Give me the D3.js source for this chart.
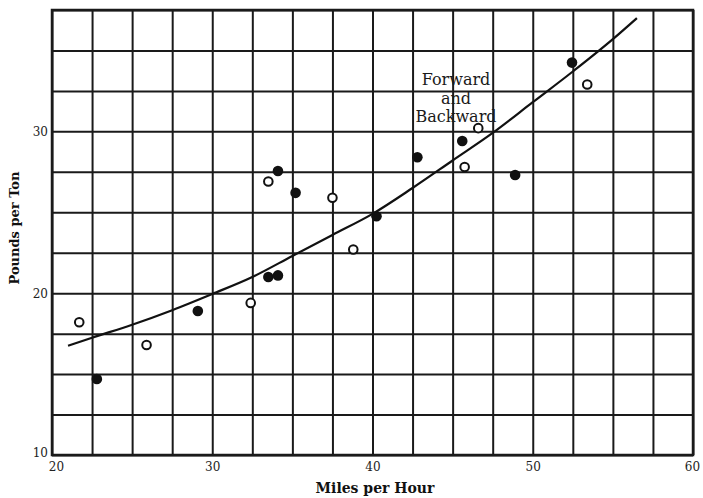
<!DOCTYPE html>
<html>
<head>
<meta charset="utf-8">
<script src="https://cdn.jsdelivr.net/npm/d3@7"></script>
<style>
  html, body { margin: 0; padding: 0; background: #ffffff; }
  svg { display: block; }
</style>
</head>
<body>
<svg id="chart" width="703" height="498"></svg>
<script>
// ---- Data ----
const openSpeed   = [21.7, 25.9, 32.4, 33.5, 37.5, 38.8, 45.75, 46.6, 53.4];
const openPounds  = [18.2, 16.8, 19.4, 26.9, 25.9, 22.7, 27.8, 30.2, 32.9];

const filledSpeed  = [22.8, 29.1, 33.5, 34.1, 34.1, 35.2, 40.25, 42.8, 45.6, 48.9, 52.45];
const filledPounds = [14.7, 18.9, 21.0, 21.1, 27.55, 26.2, 24.75, 28.4, 29.4, 27.3, 34.25];

const curveSpeed  = [21, 22.5, 25, 27.5, 30, 32.5, 35, 37.5, 40, 42.5, 45, 47.5, 50, 52.5, 55, 56.5];
const curvePounds = [16.75, 17.25, 18.05, 18.95, 19.95, 21.0, 22.3, 23.6, 24.9, 26.5, 28.2, 29.9, 31.8, 33.7, 35.7, 37.0];

const xTickLabels = [20, 30, 40, 50, 60];
const yTickLabels = [10, 20, 30];
const curveLabel = ["Forward", "and", "Backward"];

// ---- Layout ----
const svg = d3.select("#chart");
const mLeft = 52, mRight = 693, mTop = 10, mBottom = 455;
const x = d3.scaleLinear().domain([20, 60]).range([mLeft, mRight]);
const y = d3.scaleLinear().domain([10, 37.5]).range([mBottom, mTop]);

const ink = "#1a1a1a";

// grid (vertical)
const gx = svg.append("g").attr("transform", `translate(0,${mBottom})`)
  .call(d3.axisBottom(x).tickValues(d3.range(20, 60.001, 2.5)).tickSize(-(mBottom - mTop)).tickFormat(""));
gx.select(".domain").remove();
gx.selectAll(".tick line").attr("stroke", ink).attr("stroke-width", 2);

// grid (horizontal)
const gy = svg.append("g").attr("transform", `translate(${mLeft},0)`)
  .call(d3.axisLeft(y).tickValues(d3.range(10, 37.501, 2.5)).tickSize(-(mRight - mLeft)).tickFormat(""));
gy.select(".domain").remove();
gy.selectAll(".tick line").attr("stroke", ink).attr("stroke-width", 2);

// frame
svg.append("rect").attr("x", mLeft).attr("y", mTop)
  .attr("width", mRight - mLeft).attr("height", mBottom - mTop)
  .attr("fill", "none").attr("stroke", ink).attr("stroke-width", 2.5);

// x tick labels
const xa = svg.append("g").attr("transform", `translate(0,${mBottom + 2})`)
  .call(d3.axisBottom(x).tickValues(xTickLabels).tickSize(0).tickFormat(d3.format("d")));
xa.select(".domain").remove();
xa.selectAll("text").attr("font-family", "DejaVu Serif").attr("font-size", 12)
  .attr("fill", "#222").attr("dy", "0.9em")
  .attr("dx", d => d === 20 ? 4 : (d === 60 ? -1 : 0));

// y tick labels
const ya = svg.append("g").attr("transform", `translate(${mLeft - 1},0)`)
  .call(d3.axisLeft(y).tickValues(yTickLabels).tickSize(0).tickFormat(d3.format("d")));
ya.select(".domain").remove();
ya.selectAll("text").attr("font-family", "DejaVu Serif").attr("font-size", 12)
  .attr("fill", "#222").attr("dy", d => d === 10 ? "0.1em" : "0.35em");

// axis titles
svg.append("text").attr("x", 375).attr("y", 493)
  .attr("text-anchor", "middle").attr("font-family", "DejaVu Serif")
  .attr("font-weight", "bold").attr("font-size", 14).attr("fill", "#111")
  .text("Miles per Hour");
svg.append("text").attr("transform", "translate(19,228) rotate(-90)")
  .attr("text-anchor", "middle").attr("font-family", "DejaVu Serif")
  .attr("font-weight", "bold").attr("font-size", 13).attr("fill", "#111")
  .text("Pounds per Ton");

// fitted curve
const line = d3.line().x(d => x(d[0])).y(d => y(d[1])).curve(d3.curveMonotoneX);
svg.append("path").datum(d3.zip(curveSpeed, curvePounds))
  .attr("d", line).attr("fill", "none").attr("stroke", "#111").attr("stroke-width", 2.2);

// open circles
svg.append("g").selectAll("circle").data(d3.zip(openSpeed, openPounds)).join("circle")
  .attr("cx", d => x(d[0])).attr("cy", d => y(d[1])).attr("r", 4.3)
  .attr("fill", "#fff").attr("stroke", "#111").attr("stroke-width", 2);

// filled circles
svg.append("g").selectAll("circle").data(d3.zip(filledSpeed, filledPounds)).join("circle")
  .attr("cx", d => x(d[0])).attr("cy", d => y(d[1])).attr("r", 5.3)
  .attr("fill", "#111");

// curve label
const lbl = svg.append("text").attr("font-family", "DejaVu Serif").attr("font-size", 16)
  .attr("fill", "#1a1a1a").attr("text-anchor", "middle");
lbl.selectAll("tspan").data(curveLabel).join("tspan")
  .attr("x", 456).attr("y", (d, i) => 85 + i * 18.5).text(d => d);
</script>
</body>
</html>
